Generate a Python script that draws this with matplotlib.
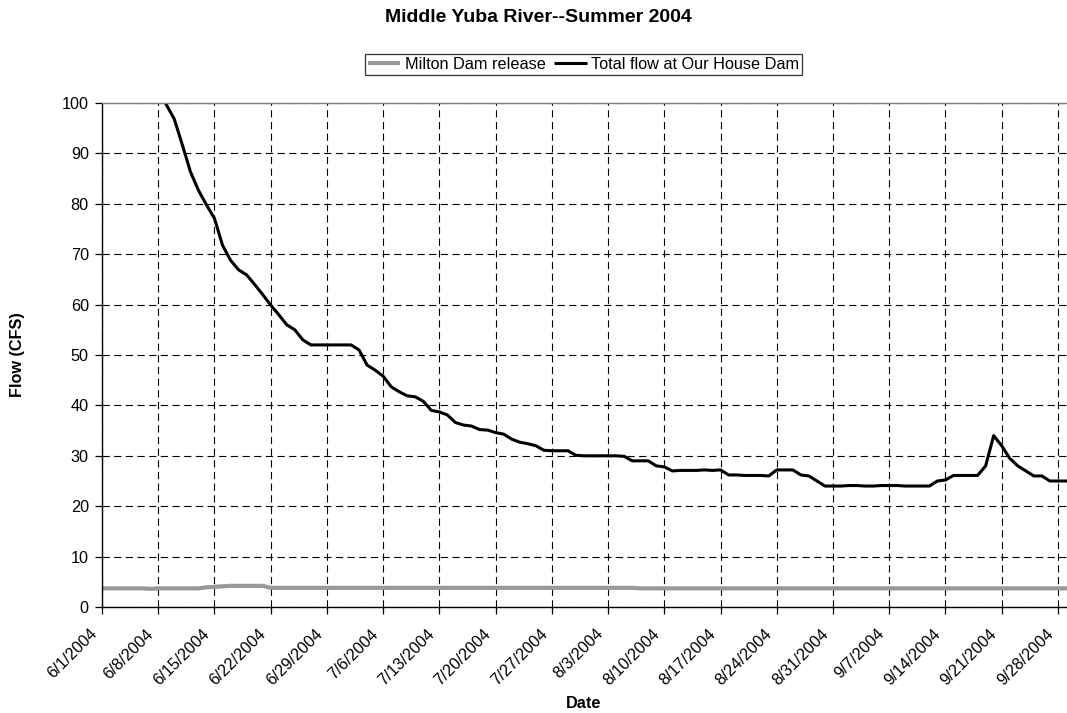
import matplotlib
matplotlib.use("Agg")
import matplotlib.pyplot as plt
import matplotlib.transforms as mtransforms
import numpy as np
import pandas as pd

plt.rcParams["font.family"] = ["Liberation Sans", "DejaVu Sans"]

# daily values, 6/1/2004 .. 9/30/2004
dates = pd.date_range("2004-06-01", "2004-09-30", freq="D")

milton = ([3.7] * 6 + [3.6] + [3.7] * 6 + [3.9, 4.0, 4.1] + [4.2] * 5
          + [3.8] * 46 + [3.7] * 55)

total = [
    140, 133, 126, 120, 115, 110, 106, 102, 99.7, 96.8,           # 6/1-6/10
    91.7, 86.4, 82.7, 79.8, 77.1, 71.8, 68.8, 66.9, 65.9, 64,     # 6/11-6/20
    62, 59.9, 58, 56, 55, 53, 52, 52, 52, 52,                     # 6/21-6/30
    52, 52, 51, 48, 47, 45.8, 43.7, 42.7, 41.9, 41.7,             # 7/1-7/10
    40.8, 39, 38.7, 38.1, 36.6, 36.1, 35.9, 35.2, 35.1, 34.6,     # 7/11-7/20
    34.3, 33.3, 32.7, 32.4, 32, 31.1, 31, 31, 31, 30.1,           # 7/21-7/30
    30, 30, 30, 30, 30, 29.9, 29, 29, 29, 28,                     # 7/31-8/9
    27.8, 27, 27.1, 27.1, 27.1, 27.2, 27.1, 27.2, 26.2, 26.2,     # 8/10-8/19
    26.1, 26.1, 26.1, 26, 27.2, 27.2, 27.2, 26.2, 26, 25,         # 8/20-8/29
    24, 24, 24, 24.1, 24.1, 24, 24, 24.1, 24.1, 24.1,             # 8/30-9/8
    24, 24, 24, 24, 25, 25.2, 26.1, 26.1, 26.1, 26.1,             # 9/9-9/18
    28, 34, 32, 29.5, 28, 27, 26, 26, 25, 25,                     # 9/19-9/28
    25, 25,                                                       # 9/29-9/30
]

FS = 11.7

fig = plt.figure(figsize=(10.67, 7.13), dpi=100)
# plot area runs past the right edge of the image
ax = fig.add_axes([102 / 1067, 1 - 607 / 713, (1074 - 102) / 1067, 504 / 713])

ax.plot(dates, milton, color="#999999", lw=3.0, label="Milton Dam release",
        solid_capstyle="butt")
ax.plot(dates, total, color="black", lw=2.2, label="Total flow at Our House Dam",
        solid_capstyle="butt")

ax.set_xlim(dates[0], dates[-1])
ax.set_ylim(0, 100)
ax.set_yticks(np.arange(0, 101, 10))
ticks = pd.date_range("2004-06-01", "2004-09-30", freq="7D")
ax.set_xticks(ticks)
ax.set_xticklabels([])
# date labels hang below-left of each tick, rotated 45 degrees
off = mtransforms.ScaledTranslation(-0.07, -0.245, fig.dpi_scale_trans)
for d in ticks:
    ax.text(d, 0, f"{d.month}/{d.day}/{d.year}", fontsize=FS, rotation=45,
            ha="right", va="center", rotation_mode="anchor",
            transform=ax.get_xaxis_transform() + off, clip_on=False)
ax.tick_params(axis="y", labelsize=FS, length=5, width=0.9, direction="out", pad=4.5)
ax.tick_params(axis="x", length=5, width=0.9, direction="out")

ax.grid(True, color="black", lw=0.8, ls=(0, (6.5, 4)))
ax.set_axisbelow(True)
for s in ("left", "bottom"):
    ax.spines[s].set_color("black")
    ax.spines[s].set_linewidth(1.0)
ax.spines["top"].set_color("#808080")
ax.spines["top"].set_linewidth(1.0)
ax.spines["right"].set_visible(False)

fig.text(18 / 1067, 1 - 355 / 713, "Flow (CFS)", fontsize=FS, fontweight="bold",
         rotation=90, ha="center", va="center")
fig.text(584 / 1067, 1 - 703 / 713, "Date", fontsize=FS, fontweight="bold",
         ha="center", va="center")
fig.text(538 / 1067, 1 - 17 / 713, "Middle Yuba River--Summer 2004",
         fontsize=14, fontweight="bold", ha="center", va="center")

leg = fig.legend(loc="center", bbox_to_anchor=(583.5 / 1067, 1 - 64.5 / 713),
                 ncol=2, fontsize=FS, frameon=True, fancybox=False,
                 handlelength=2.0, handletextpad=0.25, columnspacing=0.55,
                 borderpad=0.2, borderaxespad=0)
leg.get_frame().set_edgecolor("black")
leg.get_frame().set_linewidth(0.9)

fig.savefig("out.png", dpi=100)
